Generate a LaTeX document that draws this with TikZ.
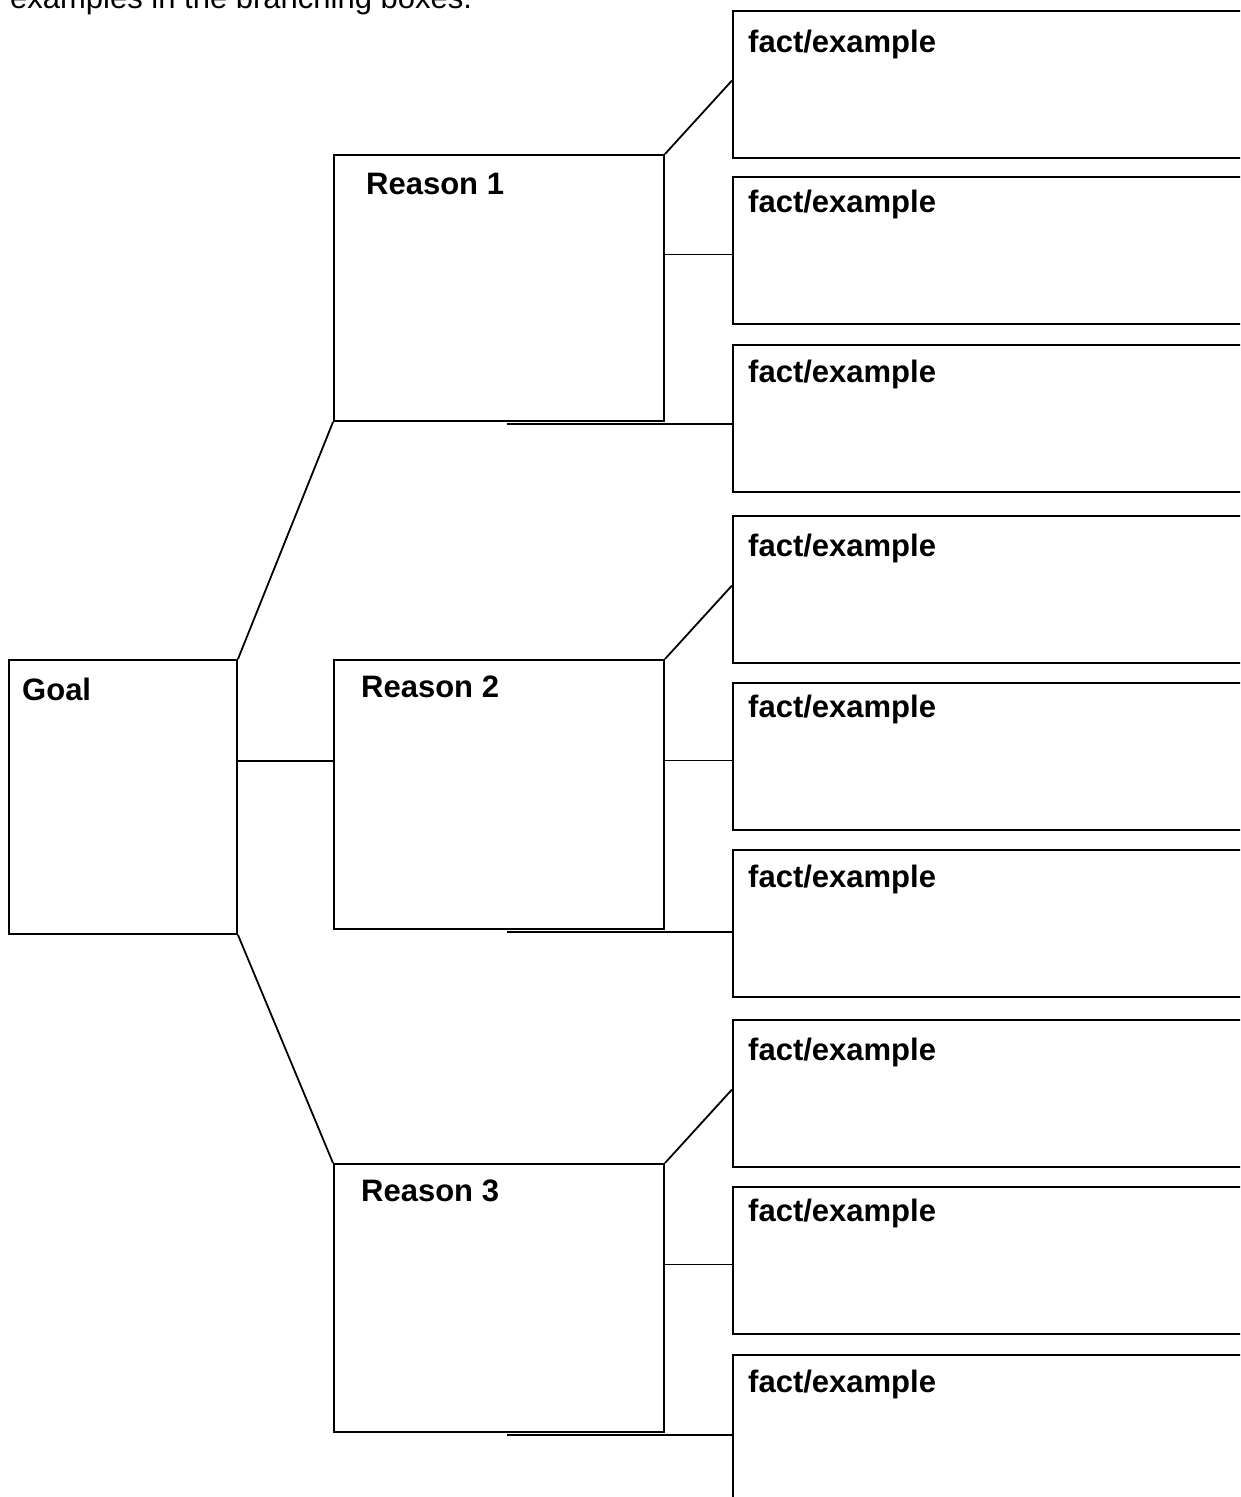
\documentclass[tikz,border=0pt]{standalone}
\usepackage{fontspec}
\setmainfont{Liberation Sans}
\begin{document}
\begin{tikzpicture}[x=1pt,y=-1pt,
  box/.style={draw=black,line width=2pt,rectangle,inner sep=0pt},
  lbl/.style={anchor=base west,inner sep=0pt,font=\fontsize{31}{37}\selectfont\bfseries},
  conn/.style={draw=black,line width=1.8pt}]
\clip (0,0) rectangle (1240,1497);
\fill[white] (0,0) rectangle (1240,1497);
\node[anchor=base west,inner sep=0pt,font=\fontsize{31}{37}\selectfont] (hdr) at (10,8) {examples in the branching boxes.};
% goal and reasons
\node[box,minimum width=228pt,minimum height=274pt] (G) at (123,797) {};
\node[box,minimum width=330pt,minimum height=266pt] (R1) at (499,288) {};
\node[box,minimum width=330pt,minimum height=269pt] (R2) at (499,794.5) {};
\node[box,minimum width=330pt,minimum height=268pt] (R3) at (499,1298) {};
\node[lbl] (tG) at (22,700) {Goal};
\node[lbl] (tR1) at (366,194) {Reason 1};
\node[lbl] (tR2) at (361,697) {Reason 2};
\node[lbl] (tR3) at (361,1201) {Reason 3};
% fact boxes
\foreach \i/\t/\d in {1/10/3,2/176/-3,3/344/-1,4/515/2,5/682/-4,6/849/-1,7/1019/2,8/1186/-4,9/1354/-1}{
  \node[box,minimum width=568pt,minimum height=147pt,anchor=north west] (F\i) at (732,\t) {};
  \node[lbl] (tF\i) at (748,\t+39+\d) {fact/example};
}
% goal connectors
\draw[conn] (G.north east) -- (R1.south west);
\draw[conn] ([yshift=36pt]G.east) -- ([yshift=36pt]G.east -| R2.west);
\draw[conn] (G.south east) -- (R3.north west);
% reason connectors
\foreach \r/\a/\b/\c in {R1/F1/F2/F3,R2/F4/F5/F6,R3/F7/F8/F9}{
  \draw[conn] (\r.north east) -- ([yshift=4pt]\a.west);
  \draw[conn] ([yshift=-4pt]\b.west -| \r.east) -- ([yshift=-4pt]\b.west);
  \draw[conn] ([yshift=-2pt]\r.south -| \c.west) -- ([xshift=8pt,yshift=-2pt]\r.south);
}
\end{tikzpicture}
\end{document}
